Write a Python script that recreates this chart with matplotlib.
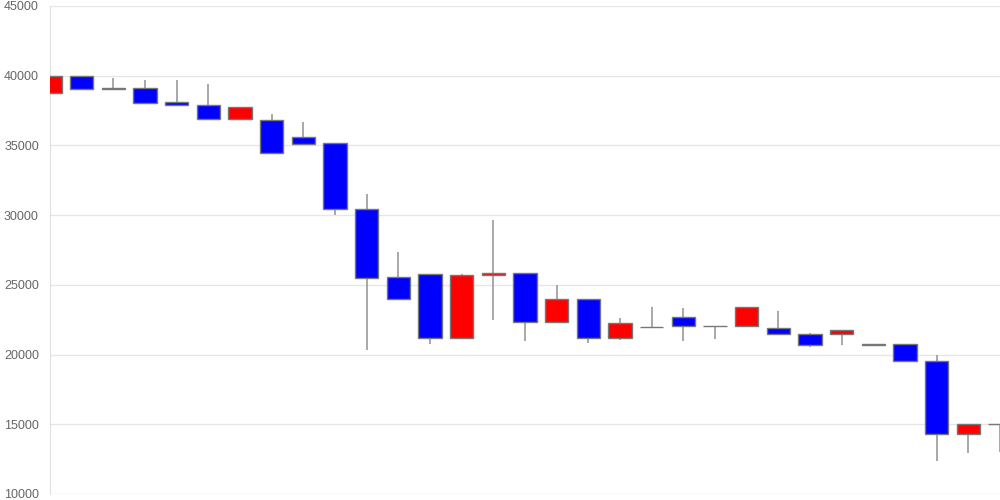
import matplotlib.pyplot as plt
import numpy as np

plt.rcParams['font.family'] = ['Liberation Sans', 'DejaVu Sans']

# === Data ===
opens = [38730, 40000, 39060, 39090, 38110, 37900, 36890, 36840, 35620, 35140,
         30430, 25550, 25760, 21160, 25690, 25880, 22330, 24000, 21170, 21960,
         22720, 22050, 22060, 21870, 21480, 21460, 20720, 20740, 19540, 14300,
         15000]
closes = [40000, 39050, 39080, 38060, 37870, 36890, 37750, 34450, 35100, 30430,
          25500, 23970, 21160, 25690, 25880, 22330, 24000, 21170, 22300, 21970,
          22030, 22040, 23380, 21460, 20720, 21770, 20720, 19520, 14300, 15000,
          15000]
highs = [40000, 40000, 39830, 39690, 39710, 39400, 37750, 37250, 36700, 35140,
         31510, 27370, 25760, 25760, 29640, 25880, 25020, 24000, 22630, 23440,
         23330, 22050, 23380, 23160, 21550, 21770, 20720, 20740, 20000, 15000,
         15000]
lows = [38080, 39050, 39050, 38060, 37870, 36890, 36800, 34450, 35100, 30020,
        20340, 23970, 20790, 21160, 22470, 21000, 22330, 20860, 21070, 21960,
        21000, 21100, 22060, 21370, 20570, 20720, 20720, 19520, 12340, 12950,
        12990]

# === Plot ===
fig = plt.figure(figsize=(10, 5), dpi=100)
ax = fig.add_axes([0.05, 0.012, 0.95, 0.976])

x = np.arange(len(opens))
opens = np.array(opens)
closes = np.array(closes)
up = closes >= opens
colors = np.where(up, '#ff0000', '#0000ff')
bottoms = np.minimum(opens, closes)
heights = np.maximum(np.abs(closes - opens), 40)

ax.vlines(x, lows, highs, color='#999999', linewidth=1.2, zorder=2)
ax.bar(x, heights, bottom=bottoms, width=0.73, color=colors,
       edgecolor='#777777', linewidth=1, zorder=3)

ax.set_xlim(0, len(opens) - 1)
ax.set_ylim(10000, 45000)
ax.set_yticks(range(10000, 45001, 5000))
ax.set_xticks([])
ax.grid(True, axis='y', color='#e6e6e6', linewidth=1)
ax.set_axisbelow(True)
for side in ['top', 'right', 'bottom']:
    ax.spines[side].set_visible(False)
ax.spines['left'].set_color('#e0e0e0')
ax.tick_params(axis='y', length=0, labelsize=9, labelcolor='#666666', pad=8)

fig.savefig('out.png', dpi=100)
